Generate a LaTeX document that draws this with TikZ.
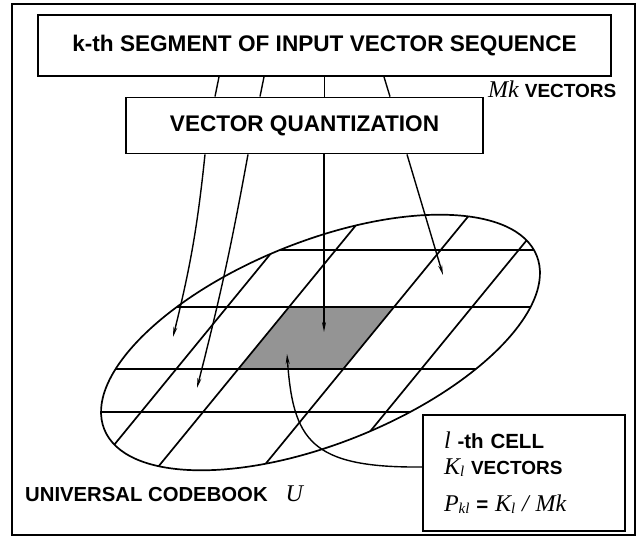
\documentclass[tikz,border=0pt]{standalone}
\usepackage{fontspec}
\setmainfont{Liberation Sans}
\newfontfamily\timesfont{Liberation Serif}
\usetikzlibrary{arrows.meta}
\newcommand{\mvar}[1]{{\timesfont\mdseries\itshape\fontsize{24}{24}\selectfont #1}}
\newcommand{\msub}[1]{\raisebox{-2pt}{\timesfont\mdseries\itshape\fontsize{15}{15}\selectfont #1}}
\newcommand{\capsword}[1]{{\fontsize{19}{19}\selectfont #1}}
\newcommand{\bookline}{(320.5,342.5) ellipse [x radius=233pt, y radius=101pt]}

\begin{document}
\begin{tikzpicture}[x=1pt,y=-1pt,
  box/.style={draw,line width=1.8pt,inner sep=0pt},
  bigtext/.style={font=\bfseries\fontsize{22.6}{27}\selectfont},
  link/.style={line width=1.4pt},
  feed/.style={line width=1.4pt,-{Stealth[length=10pt,width=4pt]}},
  cellline/.style={line width=1.7pt},
  bookturn/.style={rotate around={21.9:(320.5,342.5)}}]
\path[use as bounding box] (0,0) rectangle (638,538);
\draw[line width=2pt] (12,4) rectangle (635,535);
\node[box,bigtext,minimum width=573pt,minimum height=61pt] (seg) at (324.5,45.5) {k-th SEGMENT OF INPUT VECTOR SEQUENCE};
\node[box,bigtext,minimum width=357pt,minimum height=56pt] (vq) at (304.5,125.5) {VECTOR QUANTIZATION};
\node[anchor=base west,font=\bfseries,inner sep=0pt] (mk) at (488,97) {\mvar{Mk}\hspace{6pt}\capsword{VECTORS}};
\draw[link] ([xshift=-105.5pt]seg.south) -- ([xshift=-89.5pt]vq.north);
\draw[link] ([xshift=-60.5pt]seg.south) -- ([xshift=-44.5pt]vq.north);
\draw[link] ([xshift=0pt]seg.south) -- ([xshift=20pt]vq.north);
\draw[link] ([xshift=59.5pt]seg.south) -- ([xshift=85.5pt]vq.north);
\begin{scope}
\clip[bookturn] \bookline;
\fill[black!42] (289,307) -- (394,307) -- (343,369) -- (238,369) -- cycle;
\foreach \y in {250,307,369,412}
  \draw[cellline] (60,\y) -- (580,\y);
\foreach \x in {227,289,394,472}
  \draw[cellline] ({\x+104},180) -- ({\x-158},500);
\end{scope}
\draw[cellline,bookturn] \bookline;
\coordinate (v1) at (173,337);
\coordinate (v2) at (197,388);
\coordinate (v3) at (324,332);
\coordinate (v4) at (443,275);
\coordinate (hit) at (287,354);
\draw[feed] ([xshift=-99.5pt]vq.south) to[bend left=4] (v1);
\draw[feed] ([xshift=-56.5pt]vq.south) to[bend left=2] (v2);
\draw[feed] ([xshift=19.5pt]vq.south) -- (v3);
\draw[feed] ([xshift=102.5pt]vq.south) -- (v4);
\node[box,minimum width=202pt,minimum height=116pt,text width=160pt,inner xsep=21pt,align=left,font=\bfseries\fontsize{20.5}{26}\selectfont] (cellbox) at (524,473) {\mvar{l} -th CELL\\ \mvar{K}\msub{l} \capsword{VECTORS}\\[11pt] \mvar{P}\msub{kl} = \mvar{K}\msub{l} \mvar{/} \mvar{Mk}};
\draw[feed] ([yshift=6pt]cellbox.west) .. controls (310,468) and (293,440) .. (hit);
\node[anchor=base west,font=\bfseries\fontsize{20.3}{24}\selectfont,inner sep=0pt] (ucb) at (25,501) {UNIVERSAL CODEBOOK\hspace{18pt}\mvar{U}};
\end{tikzpicture}
\end{document}
